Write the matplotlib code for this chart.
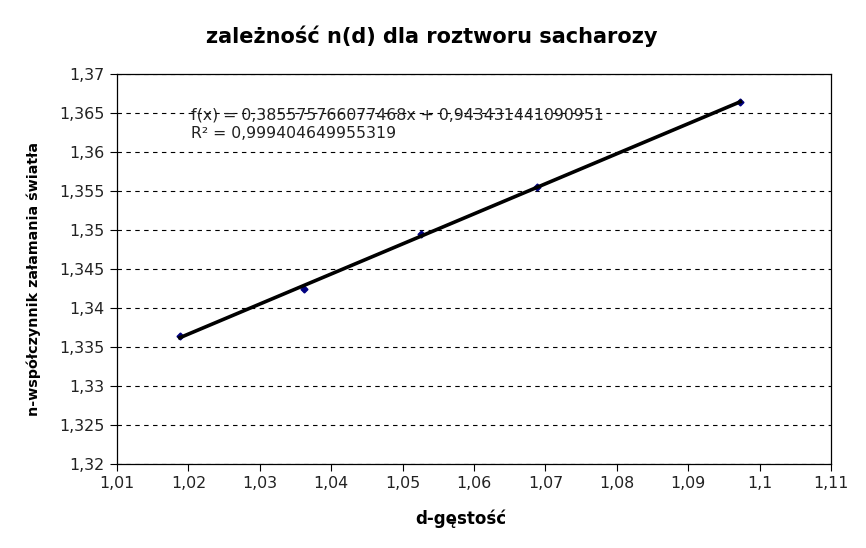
import matplotlib

matplotlib.use("Agg")
import matplotlib.pyplot as plt
import numpy as np
from matplotlib.ticker import FuncFormatter, MultipleLocator

# dane pomiarowe
gestosc = [1.0188, 1.0362, 1.0526, 1.0688, 1.0973]
wsp_zalamania = [1.3364, 1.3424, 1.3495, 1.3555, 1.3664]

tytul = "zależność n(d) dla roztworu sacharozy"
opis_x = "d-gęstość"
opis_y = "n-współczynnik załamania światła"
rownanie = "f(x) = 0,385575766077468x + 0,943431441090951\nR² = 0,999404649955319"

plt.rcParams["font.family"] = "DejaVu Sans"

fig = plt.figure(figsize=(8.66, 5.48), dpi=100)
ax = fig.add_axes([0.1351, 0.1533, 0.8245, 0.7117])

# linia trendu
a, b = np.polyfit(gestosc, wsp_zalamania, 1)
xs = np.array([min(gestosc), max(gestosc)])
ax.plot(xs, a * xs + b, color="black", linewidth=2.6, zorder=3)
ax.plot(gestosc, wsp_zalamania, linestyle="none", marker="D", markersize=3.5,
        color="#000080", zorder=2)

ax.set_xlim(1.01, 1.11)
ax.set_ylim(1.32, 1.37)
ax.xaxis.set_major_locator(MultipleLocator(0.01))
ax.yaxis.set_major_locator(MultipleLocator(0.005))

fmt = FuncFormatter(lambda v, p: f"{v:.3f}".rstrip("0").rstrip(".").replace(".", ","))
ax.xaxis.set_major_formatter(fmt)
ax.yaxis.set_major_formatter(fmt)

ax.yaxis.grid(True, linestyle=(0, (4, 4)), linewidth=0.8, color="black")
ax.set_axisbelow(True)
ax.tick_params(direction="out", length=5, width=0.8, labelsize=11.4, pad=4,
               labelcolor="#222222")
for s in ax.spines.values():
    s.set_linewidth(0.9)

ax.text(1.0203, 1.3636, rownanie, fontsize=11.3, linespacing=1.28, va="center", zorder=4,
        color="#222222")

fig.text(0.499, 0.934, tytul, ha="center", va="center", fontsize=15, weight="bold")
fig.text(0.532, 0.053, opis_x, ha="center", va="center", fontsize=12, weight="bold")
fig.text(0.039, 0.491, opis_y, ha="center", va="center", fontsize=10.3, weight="bold",
         rotation=90)

plt.savefig("out.png", dpi=100)
